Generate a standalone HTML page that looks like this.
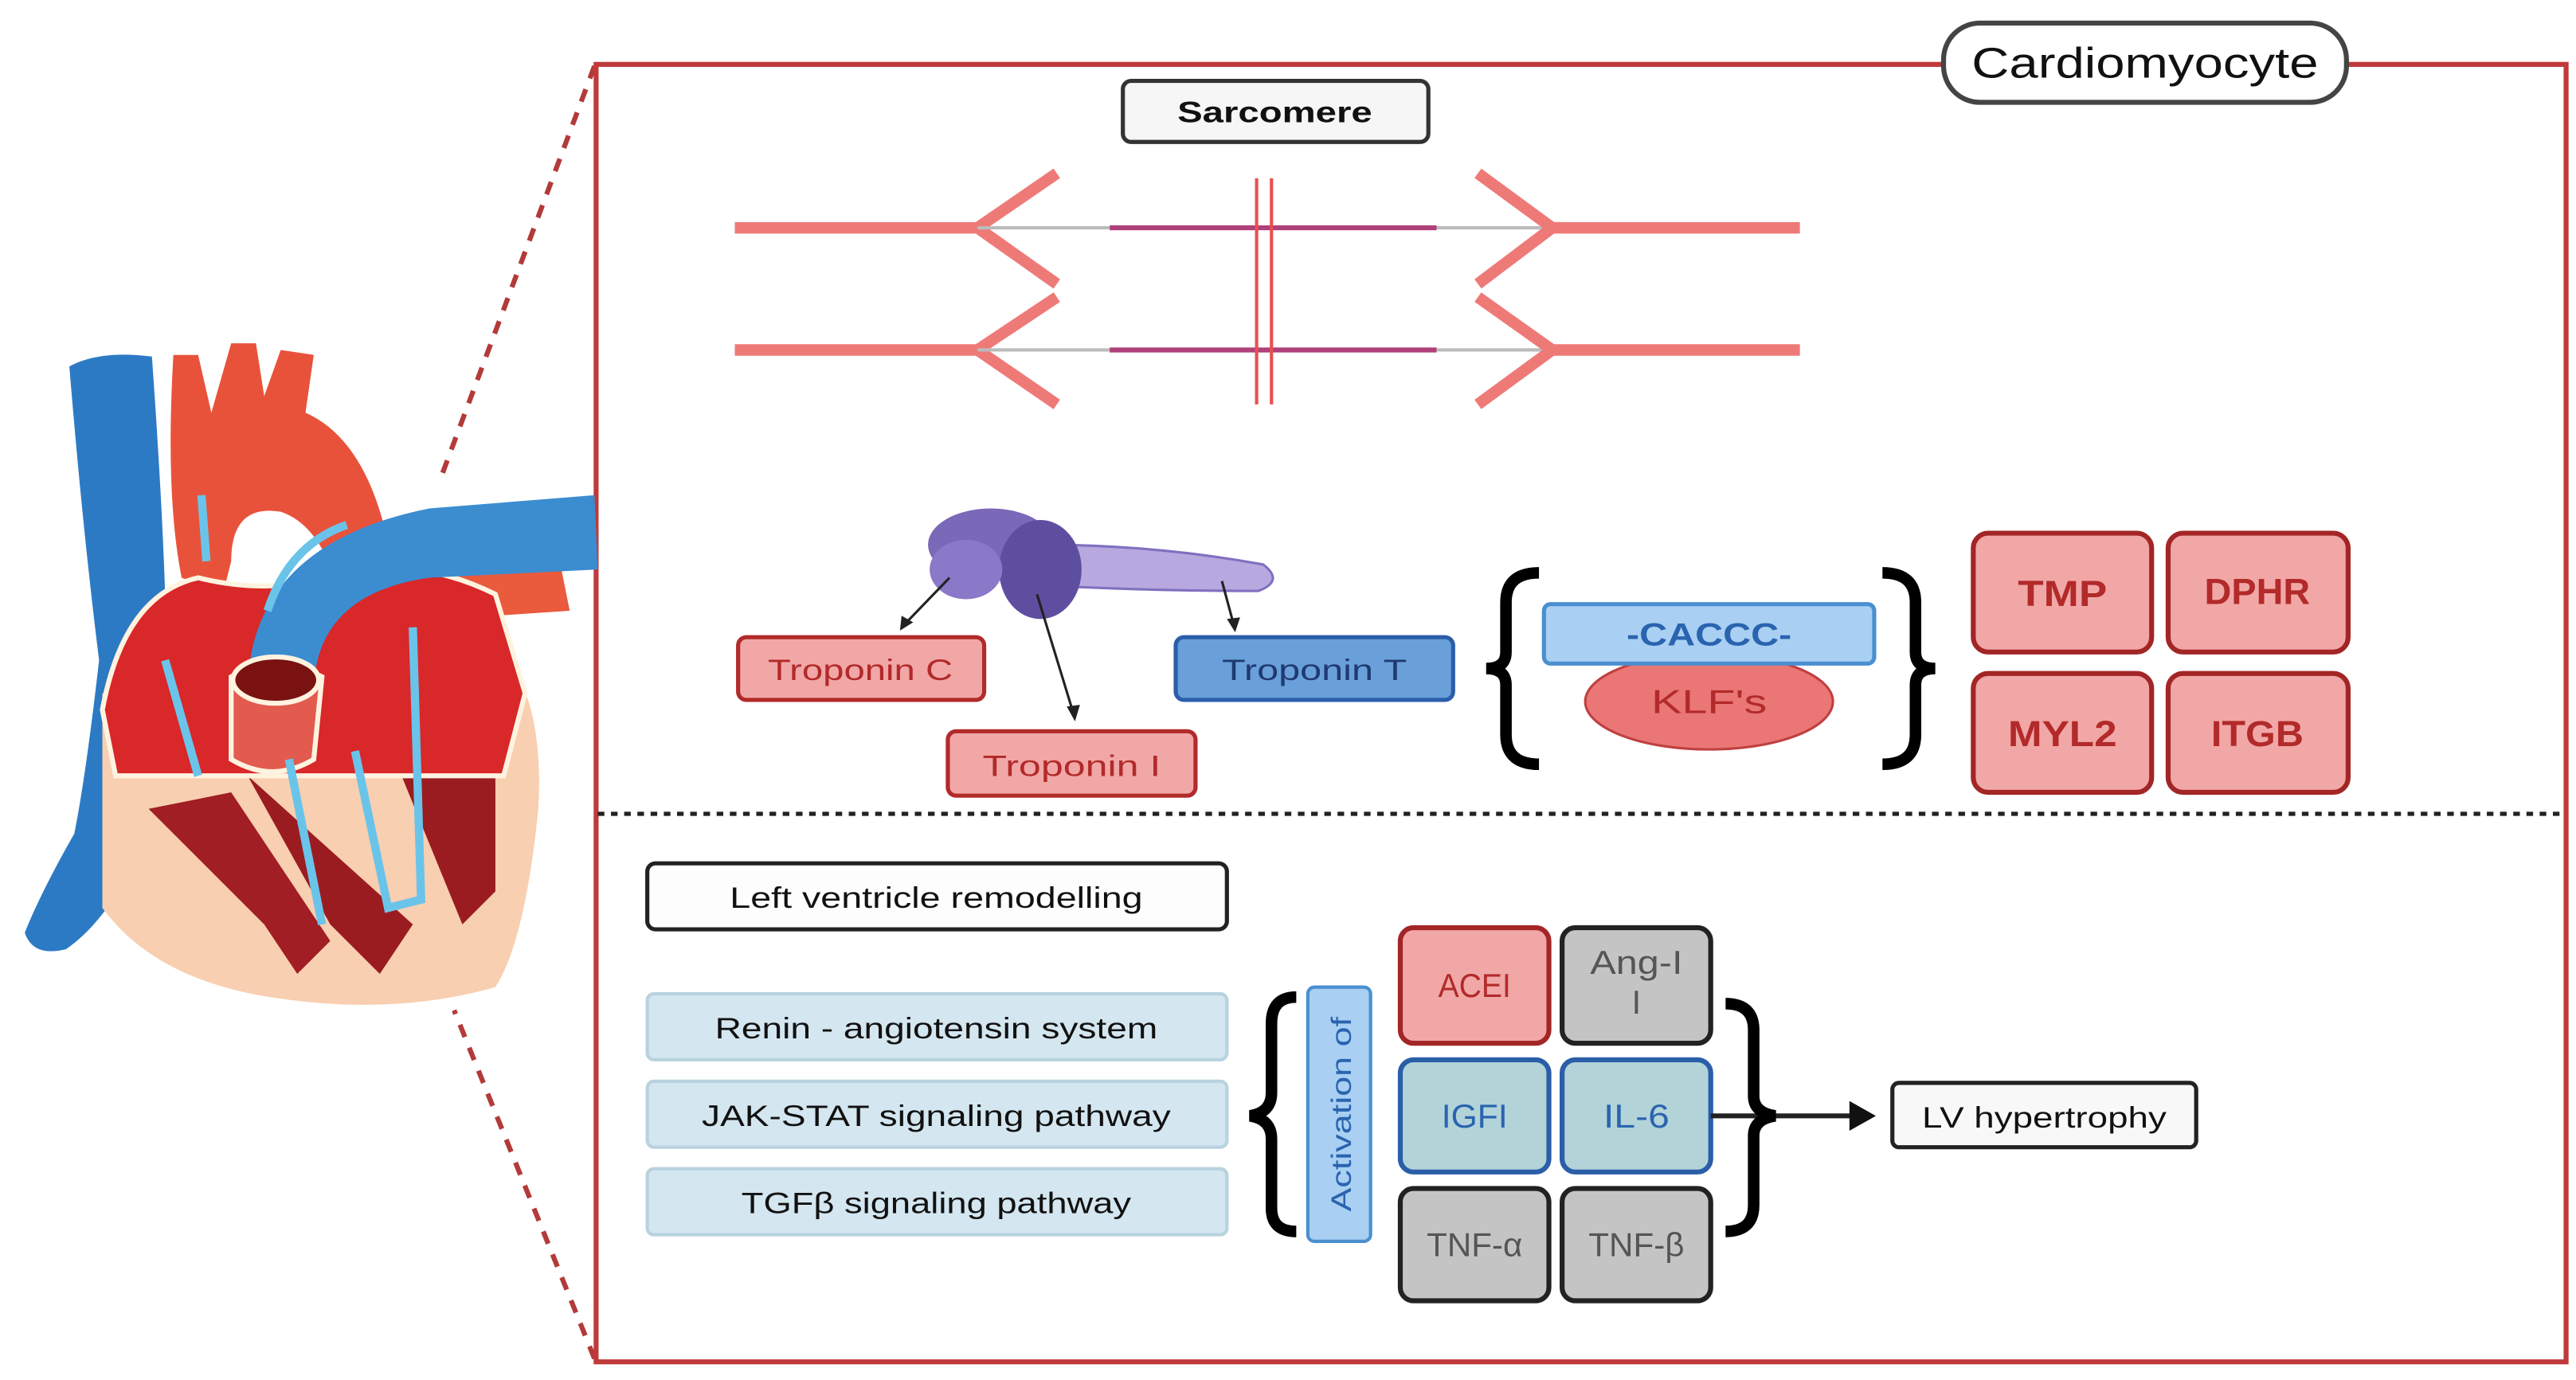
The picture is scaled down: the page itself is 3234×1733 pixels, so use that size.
<!DOCTYPE html>
<html><head><meta charset="utf-8"><style>
html,body{margin:0;padding:0;background:#fff;}
svg{display:block;}
text{font-family:"Liberation Sans",sans-serif;}
</style></head><body>
<svg width="3234" height="1733" viewBox="0 0 1560 836" preserveAspectRatio="none" xmlns="http://www.w3.org/2000/svg">
<rect width="1560" height="836" fill="#fff"/>
<line x1="360" y1="40" x2="266" y2="292" stroke="#b33a3a" stroke-width="3" stroke-dasharray="8,7"/>
<line x1="360" y1="823" x2="275" y2="612" stroke="#b33a3a" stroke-width="3" stroke-dasharray="8,7"/>
<rect x="361" y="39" width="1193" height="786" fill="#fff" stroke="#c0393b" stroke-width="3"/>
<rect x="1177" y="14" width="244" height="48" rx="22" fill="#fff" stroke="#444" stroke-width="3"/>
<text x="1299" y="47" font-size="26" text-anchor="middle" fill="#111" textLength="210" lengthAdjust="spacingAndGlyphs">Cardiomyocyte</text>
<rect x="680" y="49" width="185" height="37" rx="5" fill="#f6f6f6" stroke="#333" stroke-width="2.5"/>
<text x="772" y="74" font-size="18" font-weight="bold" text-anchor="middle" fill="#111" textLength="118" lengthAdjust="spacingAndGlyphs">Sarcomere</text>
<g stroke-linecap="butt">
<line x1="445" y1="138" x2="592" y2="138" stroke="#ee7a78" stroke-width="7"/>
<polyline points="640,105 592,138 640,172" fill="none" stroke="#ee7a78" stroke-width="7"/>
<line x1="592" y1="138" x2="672" y2="138" stroke="#bbb" stroke-width="2"/>
<line x1="672" y1="138" x2="870" y2="138" stroke="#b0407a" stroke-width="3"/>
<line x1="870" y1="138" x2="940" y2="138" stroke="#bbb" stroke-width="2"/>
<polyline points="895,105 940,138 895,172" fill="none" stroke="#ee7a78" stroke-width="7"/>
<line x1="940" y1="138" x2="1090" y2="138" stroke="#ee7a78" stroke-width="7"/>
<line x1="445" y1="212" x2="592" y2="212" stroke="#ee7a78" stroke-width="7"/>
<polyline points="640,180 592,212 640,245" fill="none" stroke="#ee7a78" stroke-width="7"/>
<line x1="592" y1="212" x2="672" y2="212" stroke="#bbb" stroke-width="2"/>
<line x1="672" y1="212" x2="870" y2="212" stroke="#b0407a" stroke-width="3"/>
<line x1="870" y1="212" x2="940" y2="212" stroke="#bbb" stroke-width="2"/>
<polyline points="895,180 940,212 895,245" fill="none" stroke="#ee7a78" stroke-width="7"/>
<line x1="940" y1="212" x2="1090" y2="212" stroke="#ee7a78" stroke-width="7"/>
<line x1="761" y1="108" x2="761" y2="245" stroke="#e85050" stroke-width="2"/>
<line x1="770" y1="108" x2="770" y2="245" stroke="#e85050" stroke-width="2"/>
</g>
<path d="M630,330 Q700,330 765,342 Q778,352 762,358 Q700,358 640,355 Z" fill="#b8a8e0" stroke="#8070c0" stroke-width="1.5"/>
<ellipse cx="600" cy="330" rx="38" ry="22" fill="#7a68b8"/>
<ellipse cx="630" cy="345" rx="25" ry="30" fill="#5e4ea0"/>
<ellipse cx="585" cy="345" rx="22" ry="18" fill="#8a78c8"/>
<line x1="575" y1="350" x2="548" y2="378" stroke="#222" stroke-width="1.5"/>
<polygon points="545,382 546,373 553,377" fill="#222"/>
<line x1="628" y1="360" x2="650" y2="432" stroke="#222" stroke-width="1.5"/>
<polygon points="651,437 646,428 654,427" fill="#222"/>
<line x1="740" y1="352" x2="747" y2="378" stroke="#222" stroke-width="1.5"/>
<polygon points="748,383 743,375 751,374" fill="#222"/>
<rect x="447" y="386" width="149" height="38" rx="5" fill="#f2a7a7" stroke="#b22a2a" stroke-width="2.5"/>
<text x="521" y="412" font-size="18" text-anchor="middle" fill="#b22a2a" textLength="112" lengthAdjust="spacingAndGlyphs">Troponin C</text>
<rect x="574" y="443" width="150" height="39" rx="5" fill="#f2a7a7" stroke="#b22a2a" stroke-width="2.5"/>
<text x="649" y="470" font-size="18" text-anchor="middle" fill="#b22a2a" textLength="108" lengthAdjust="spacingAndGlyphs">Troponin I</text>
<rect x="712" y="386" width="168" height="38" rx="5" fill="#6aa0da" stroke="#2a5ea8" stroke-width="2.5"/>
<text x="796" y="412" font-size="18" text-anchor="middle" fill="#1e3a70" textLength="112" lengthAdjust="spacingAndGlyphs">Troponin T</text>
<path d="M932,347 Q912,347 912,365 L912,395 Q912,405 900,405 Q912,405 912,415 L912,445 Q912,463 932,463" fill="none" stroke="#000" stroke-width="7"/>
<path d="M1140,347 Q1160,347 1160,365 L1160,395 Q1160,405 1172,405 Q1160,405 1160,415 L1160,445 Q1160,463 1140,463" fill="none" stroke="#000" stroke-width="7"/>
<ellipse cx="1035" cy="425" rx="75" ry="29" fill="#ea7676" stroke="#c04040" stroke-width="1.5"/>
<text x="1035" y="432" font-size="20" text-anchor="middle" fill="#b22a2a" textLength="70" lengthAdjust="spacingAndGlyphs">KLF's</text>
<rect x="935" y="366" width="200" height="36" rx="4" fill="#a9d0f2" stroke="#4a8fd0" stroke-width="2.5"/>
<text x="1035" y="391" font-size="19" font-weight="bold" text-anchor="middle" fill="#2a64b0" textLength="100" lengthAdjust="spacingAndGlyphs">-CACCC-</text>
<g fill="#f2a7a7" stroke="#a32626" stroke-width="3">
<rect x="1195" y="323" width="108" height="72" rx="9"/>
<rect x="1313" y="323" width="109" height="72" rx="9"/>
<rect x="1195" y="408" width="108" height="72" rx="9"/>
<rect x="1313" y="408" width="109" height="72" rx="9"/>
</g>
<g font-size="22" font-weight="bold" fill="#b22a2a" text-anchor="middle">
<text x="1249" y="367" textLength="54" lengthAdjust="spacingAndGlyphs">TMP</text>
<text x="1367" y="366" textLength="64" lengthAdjust="spacingAndGlyphs">DPHR</text>
<text x="1249" y="452" textLength="66" lengthAdjust="spacingAndGlyphs">MYL2</text>
<text x="1367" y="452" textLength="56" lengthAdjust="spacingAndGlyphs">ITGB</text>
</g>
<line x1="362" y1="493" x2="1553" y2="493" stroke="#222" stroke-width="2.5" stroke-dasharray="4,4"/>
<rect x="392" y="523" width="351" height="40" rx="5" fill="#fdfdfd" stroke="#222" stroke-width="2.5"/>
<text x="567" y="550" font-size="18" text-anchor="middle" fill="#111" textLength="250" lengthAdjust="spacingAndGlyphs">Left ventricle remodelling</text>
<g fill="#d4e6ef" stroke="#b8d2de" stroke-width="2">
<rect x="392" y="602" width="351" height="40" rx="4"/>
<rect x="392" y="655" width="351" height="40" rx="4"/>
<rect x="392" y="708" width="351" height="40" rx="4"/>
</g>
<g font-size="18" text-anchor="middle" fill="#111">
<text x="567" y="629" textLength="268" lengthAdjust="spacingAndGlyphs">Renin - angiotensin system</text>
<text x="567" y="682" textLength="284" lengthAdjust="spacingAndGlyphs">JAK-STAT signaling pathway</text>
<text x="567" y="735" textLength="236" lengthAdjust="spacingAndGlyphs">TGFβ signaling pathway</text>
</g>
<path d="M785,604 Q770,604 770,620 L770,662 Q770,674 757,676 Q770,678 770,690 L770,732 Q770,746 785,746" fill="none" stroke="#000" stroke-width="7"/>
<rect x="792" y="598" width="38" height="154" rx="4" fill="#a9d0f2" stroke="#4a8fd0" stroke-width="2"/>
<text transform="translate(818,675) rotate(-90)" font-size="17" text-anchor="middle" fill="#2a64b0" textLength="118" lengthAdjust="spacingAndGlyphs">Activation of</text>
<rect x="848" y="562" width="90" height="70" rx="8" fill="#f2a7a7" stroke="#a32626" stroke-width="3"/>
<rect x="946" y="562" width="90" height="70" rx="8" fill="#c4c4c4" stroke="#222" stroke-width="3"/>
<rect x="848" y="642" width="90" height="68" rx="8" fill="#b2d4d8" stroke="#2a5ea8" stroke-width="3"/>
<rect x="946" y="642" width="90" height="68" rx="8" fill="#b2d4d8" stroke="#2a5ea8" stroke-width="3"/>
<rect x="848" y="720" width="90" height="68" rx="8" fill="#c4c4c4" stroke="#222" stroke-width="3"/>
<rect x="946" y="720" width="90" height="68" rx="8" fill="#c4c4c4" stroke="#222" stroke-width="3"/>
<g font-size="20" text-anchor="middle">
<text x="893" y="604" fill="#b22a2a" textLength="44" lengthAdjust="spacingAndGlyphs">ACEI</text>
<text x="991" y="590" fill="#555" textLength="56" lengthAdjust="spacingAndGlyphs">Ang-I</text>
<text x="991" y="614" fill="#555">I</text>
<text x="893" y="683" fill="#2a64b0" textLength="40" lengthAdjust="spacingAndGlyphs">IGFI</text>
<text x="991" y="683" fill="#2a64b0" textLength="40" lengthAdjust="spacingAndGlyphs">IL-6</text>
<text x="893" y="761" fill="#555" textLength="58" lengthAdjust="spacingAndGlyphs">TNF-α</text>
<text x="991" y="761" fill="#555" textLength="58" lengthAdjust="spacingAndGlyphs">TNF-β</text>
</g>
<line x1="1036" y1="676" x2="1122" y2="676" stroke="#222" stroke-width="3"/>
<polygon points="1136,676 1120,667 1120,685" fill="#111"/>
<path d="M1045,608 Q1062,608 1062,624 L1062,664 Q1062,674 1075,676 Q1062,678 1062,688 L1062,730 Q1062,746 1045,746" fill="none" stroke="#000" stroke-width="7"/>
<rect x="1146" y="656" width="184" height="39" rx="4" fill="#f8f8f8" stroke="#222" stroke-width="2.5"/>
<text x="1238" y="683" font-size="18" text-anchor="middle" fill="#111" textLength="148" lengthAdjust="spacingAndGlyphs">LV hypertrophy</text>
<!-- heart -->
<g>
<path d="M42,222 Q60,212 92,216 Q98,300 100,360 Q85,440 80,500 L80,525 Q62,560 40,575 Q20,580 15,565 Q25,540 45,505 Q52,470 60,400 Q50,320 42,222 Z" fill="#2d7ac4"/>
<path d="M62,420 L300,390 Q330,420 326,490 Q318,570 300,598 Q240,615 170,605 Q95,595 62,550 Z" fill="#f8cfb0"/>
<path d="M150,470 L200,560 L230,590 L250,560 Z" fill="#9a1c20"/>
<path d="M235,450 L280,560 L300,540 L300,460 Z" fill="#9a1c20"/>
<path d="M90,490 L160,560 L180,590 L200,570 L140,480 Z" fill="#a01e24"/>
<path d="M105,215 L120,215 L128,250 L140,208 L155,208 L160,240 L170,212 L190,215 L185,250 Q230,270 240,360 L210,380 Q200,320 170,310 Q140,305 140,340 L135,360 L110,350 Q100,300 105,215 Z" fill="#e9523a"/>
<path d="M240,320 L340,345 L345,370 L270,375 Z" fill="#ea5a3c"/>
<path d="M62,430 Q75,360 120,350 Q160,360 200,350 Q250,335 300,360 L318,420 L305,470 L210,470 L140,470 L70,470 Z" fill="#d8282a" stroke="#fff3e0" stroke-width="3"/>
<path d="M150,420 Q150,330 260,308 L360,300 L362,345 L260,350 Q190,360 190,420 Z" fill="#3b8dd0"/>
<path d="M140,410 Q165,395 195,410 L190,460 Q165,475 140,460 Z" fill="#e35a4e" stroke="#fff3e0" stroke-width="3"/>
<ellipse cx="167" cy="412" rx="26" ry="14" fill="#7a1212" stroke="#fff3e0" stroke-width="3"/>
<path d="M100,400 L120,470" stroke="#6ac4ea" stroke-width="5" fill="none"/>
<path d="M175,460 L195,560" stroke="#6ac4ea" stroke-width="5" fill="none"/>
<path d="M215,455 L235,550 L255,545 L250,380" stroke="#6ac4ea" stroke-width="5" fill="none"/>
<path d="M125,340 L122,300" stroke="#6ac4ea" stroke-width="5" fill="none"/>
<path d="M162,370 Q175,330 210,318" stroke="#6ac4ea" stroke-width="5" fill="none"/>
</g>
</svg>
</body></html>
